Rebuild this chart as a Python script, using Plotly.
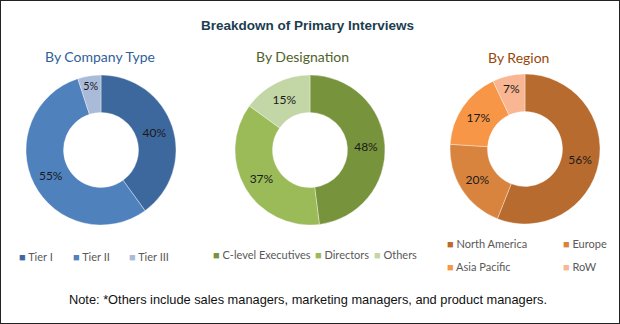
import plotly.graph_objects as go

# ---- data ----
company_labels = ["Tier I", "Tier II", "Tier III"]
company_values = [40, 55, 5]
company_colors = ["#3D689E", "#4F81BD", "#A9BBD9"]

designation_labels = ["C-level Executives", "Directors", "Others"]
designation_values = [48, 37, 15]
designation_colors = ["#77933C", "#9BBB59", "#C3D6A5"]

region_labels = ["North America", "Europe", "Asia Pacific", "RoW"]
region_values = [56, 20, 17, 7]
region_colors = ["#B86B2F", "#D9843E", "#F79646", "#F8B692"]

title_text = "Breakdown of Primary Interviews"
subtitles = ["By Company Type", "By Designation", "By Region"]
subtitle_colors = ["#2F5F98", "#4F6228", "#984807"]
note_text = "Note: *Others include sales managers, marketing managers, and product managers."

W, H = 620, 324

def px_x(x):
    return x / W

def px_y(y):
    return 1 - y / H

fig = go.Figure()

def add_donut(labels, values, colors, cx, cy, r=75):
    fig.add_trace(go.Pie(
        labels=labels, values=values, hole=0.5, sort=False,
        direction="clockwise", rotation=0,
        marker=dict(colors=colors, line=dict(color="rgba(255,255,255,0.6)", width=0.6)),
        texttemplate="%{value}%", textinfo="text",
        textposition="inside", insidetextorientation="horizontal",
        textfont=dict(family="Lato, sans-serif", size=12, color="#1a1a1a"),
        hoverinfo="label+percent", showlegend=False,
        domain=dict(x=[px_x(cx - r), px_x(cx + r)], y=[px_y(cy + r), px_y(cy - r)]),
    ))

add_donut(company_labels, company_values, company_colors, 101, 150)
add_donut(designation_labels, designation_values, designation_colors, 310, 150)
add_donut(region_labels, region_values, region_colors, 525, 149)

annotations = []
annotations.append(dict(
    text=f"<b>{title_text}</b>", x=px_x(307), y=px_y(25), xref="paper", yref="paper",
    showarrow=False, xanchor="center", yanchor="middle",
    font=dict(family="Liberation Sans Narrow, Arial Narrow, sans-serif", size=13.5, color="#1B3D4F")))

for txt, col, cx, cy in zip(subtitles, subtitle_colors, [100, 302, 518], [56, 56, 57]):
    annotations.append(dict(
        text=txt, x=px_x(cx), y=px_y(cy), xref="paper", yref="paper",
        showarrow=False, xanchor="center", yanchor="middle",
        font=dict(family="Lato, sans-serif", size=14, color=col)))

annotations.append(dict(
    text=note_text, x=px_x(308), y=px_y(299), xref="paper", yref="paper",
    showarrow=False, xanchor="center", yanchor="middle",
    font=dict(family="Liberation Sans Narrow, Arial Narrow, sans-serif", size=12.8, color="#111111")))

# legend entries (square + label)
def legend_items(labels, colors, positions):
    for lab, col, (x, y) in zip(labels, colors, positions):
        annotations.append(dict(
            text=f"<span style='color:{col}'>■</span> {lab}", x=px_x(x), y=px_y(y),
            xref="paper", yref="paper", showarrow=False, xanchor="left", yanchor="middle",
            font=dict(family="Lato, sans-serif", size=11, color="#595959")))

legend_items(company_labels, company_colors, [(17, 256), (71, 256), (127, 256)])
legend_items(designation_labels, designation_colors, [(211, 254), (313, 254), (372, 254)])
legend_items(region_labels, region_colors, [(445, 243), (561, 243), (445, 266), (561, 266)])

fig.update_layout(
    width=W, height=H, margin=dict(l=0, r=0, t=0, b=0),
    paper_bgcolor="white", plot_bgcolor="white",
    annotations=annotations,
    shapes=[dict(type="rect", xref="paper", yref="paper", x0=0, y0=0, x1=1, y1=1,
                 line=dict(color="#222222", width=2))],
)

fig.write_html("out.html")
